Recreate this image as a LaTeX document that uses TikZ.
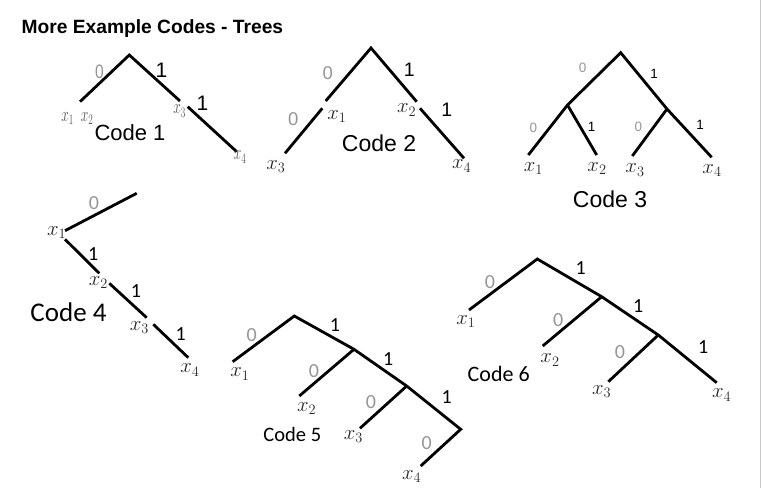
\documentclass[tikz,border=0pt]{standalone}
\usepackage{fontspec}
\setmainfont{Liberation Sans}
\newfontfamily\calib{Carlito}
\definecolor{zgray}{RGB}{150,150,150}
\definecolor{xgray}{RGB}{85,85,85}
\definecolor{xdark}{RGB}{40,40,40}
\definecolor{edgegray}{RGB}{200,200,200}
\begin{document}
\begin{tikzpicture}[x=1pt,y=-1pt,
  br/.style={line width=2.8pt,black},
  zeroA/.style={font=\fontsize{18.5}{18.5}\selectfont,text=zgray,inner sep=0pt},
  oneA/.style={font=\fontsize{19.5}{19.5}\selectfont,text=black,inner sep=0pt},
  zeroS/.style={font=\fontsize{13.5}{13.5}\selectfont,text=zgray,inner sep=0pt},
  oneS/.style={font=\fontsize{13.5}{13.5}\selectfont,text=black,inner sep=0pt},
  zeroC/.style={font=\calib\fontsize{20}{20}\selectfont,text=zgray,inner sep=0pt},
  oneC/.style={font=\calib\fontsize{20}{20}\selectfont,text=black,inner sep=0pt},
  xlg/.style={font=\fontsize{21}{21}\selectfont,text=xgray,inner sep=0pt,xscale=0.65},
  xl/.style={font=\fontsize{19.5}{19.5}\selectfont,text=xdark,inner sep=0pt},
  xlb/.style={font=\fontsize{22}{22}\selectfont,text=xdark,inner sep=0pt},
  codeA/.style={font=\fontsize{22.5}{22.5}\selectfont,inner sep=0pt,anchor=base},
  codeC/.style={font=\calib\fontsize{27}{27}\selectfont,inner sep=0pt,anchor=base}]
\useasboundingbox (0,0) rectangle (761,488);
\fill[white] (0,0) rectangle (761,488);
\coordinate (e1) at (760.5,0);
\coordinate (e2) at (760.5,488);
\draw[edgegray,line width=1pt] (e1) -- (e2);
\node[anchor=base west,inner sep=0pt,font=\bfseries\fontsize{19.2}{19.2}\selectfont] (title) at (21.5,33.5) {More Example Codes - Trees};

% ---- Code 1
\coordinate (a0) at (129.3,55);
\coordinate (a1) at (80,101.7);
\coordinate (a2) at (180,101);
\coordinate (a3) at (187.7,106.7);
\coordinate (a4) at (236.7,151.7);
\draw[br] (a1) -- (a0) -- (a2);
\draw[br] (a3) -- (a4);
\node[zeroA,xscale=0.8,font=\fontsize{19.5}{19.5}\selectfont] (a0l) at (99.5,71.5) {0};
\node[oneA,font=\fontsize{21}{21}\selectfont] (a1l) at (161.5,70.5) {1};
\node[oneA,font=\fontsize{21}{21}\selectfont] (a2l) at (202.5,103.5) {1};
\node[xlg] (ax1) at (67.5,118.5) {$x_1$};
\node[xlg] (ax2) at (87,118.5) {$x_2$};
\node[xlg] (ax3) at (179.5,111) {$x_3$};
\node[xlg] (ax4) at (240,157) {$x_4$};
\node[codeA,font=\fontsize{22}{22}\selectfont] (c1) at (130,140) {Code 1};

% ---- Code 2
\coordinate (b0) at (371,48);
\coordinate (b1) at (325.7,101);
\coordinate (b2) at (322.3,108.3);
\coordinate (b3) at (285,153.3);
\coordinate (b4) at (416.7,101.7);
\coordinate (b5) at (420,108.3);
\coordinate (b6) at (464,158.3);
\draw[br] (b1) -- (b0) -- (b4);
\draw[br] (b2) -- (b3);
\draw[br] (b5) -- (b6);
\node[zeroA] (b0l) at (327.7,73.3) {0};
\node[oneA] (b1l) at (409.3,69.3) {1};
\node[zeroA] (b2l) at (293.3,119) {0};
\node[oneA] (b3l) at (446.7,110) {1};
\node[xl] (bx1) at (337,116.7) {$x_1$};
\node[xl] (bx2) at (406.7,110) {$x_2$};
\node[xl] (bx3) at (276,166.7) {$x_3$};
\node[xl] (bx4) at (461.7,166) {$x_4$};
\node[codeA,font=\fontsize{23}{23}\selectfont] (c2) at (379,151.5) {Code 2};

% ---- Code 3
\coordinate (d0) at (620.7,52.7);
\coordinate (dL) at (567.5,105);
\coordinate (dR) at (667,109);
\coordinate (d1) at (528.3,155);
\coordinate (d2) at (596.7,155);
\coordinate (d3) at (632.3,156);
\coordinate (d4) at (711.7,157.3);
\draw[br] (d1) -- (dL) -- (d0) -- (dR) -- (d4);
\draw[br] (dL) -- (d2);
\draw[br] (dR) -- (d3);
\node[zeroS] (d0l) at (582.7,68.3) {0};
\node[oneS] (d1l) at (654,74.3) {1};
\node[zeroS] (d2l) at (533.3,128.3) {0};
\node[oneS] (d3l) at (591.7,126.7) {1};
\node[zeroS] (d4l) at (638.3,127.3) {0};
\node[oneS] (d5l) at (700,125) {1};
\node[xlb] (dx1) at (533.3,168.3) {$x_1$};
\node[xlb] (dx2) at (597,168.3) {$x_2$};
\node[xlb] (dx3) at (635,170) {$x_3$};
\node[xlb] (dx4) at (712,170.7) {$x_4$};
\node[codeA,font=\fontsize{23}{23}\selectfont] (c3) at (610,207) {Code 3};

% ---- Code 4
\coordinate (f0) at (136.7,193.3);
\coordinate (f1) at (65,230.7);
\coordinate (f2) at (65,239.3);
\coordinate (f3) at (99.3,273.3);
\coordinate (f4) at (109.3,283.3);
\coordinate (f5) at (146.7,317.7);
\coordinate (f6) at (153.3,324.3);
\coordinate (f7) at (188.3,357.7);
\draw[br] (f1) -- (f0);
\draw[br] (f2) -- (f3);
\draw[br] (f4) -- (f5);
\draw[br] (f6) -- (f7);
\node[zeroC] (f0l) at (94,202.7) {0};
\node[oneC] (f1l) at (93.3,254) {1};
\node[oneC] (f2l) at (136,291) {1};
\node[oneC] (f3l) at (180.7,334) {1};
\node[xl] (fx1) at (56.7,232.7) {$x_1$};
\node[xl] (fx2) at (98.3,282.7) {$x_2$};
\node[xl] (fx3) at (139.3,327.7) {$x_3$};
\node[xl] (fx4) at (190,370) {$x_4$};
\node[codeC] (c4) at (68.5,321.5) {Code 4};

% ---- Code 5
\coordinate (g0) at (294.3,316);
\coordinate (g1) at (232.7,361.7);
\coordinate (gA) at (354,349.3);
\coordinate (g2) at (299.3,396);
\coordinate (gB) at (406.7,386);
\coordinate (g3) at (360,428.3);
\coordinate (gC) at (460.7,429.3);
\coordinate (g4) at (420.7,466);
\draw[br] (g1) -- (g0) -- (gA) -- (gB) -- (gC) -- (g4);
\draw[br] (gA) -- (g2);
\draw[br] (gB) -- (g3);
\node[zeroC] (g0l) at (251.7,335) {0};
\node[oneC] (g1l) at (335,325) {1};
\node[zeroC] (g2l) at (314,370.7) {0};
\node[oneC] (g3l) at (388.3,359.3) {1};
\node[zeroC] (g4l) at (371,401.7) {0};
\node[oneC] (g5l) at (446.7,397.3) {1};
\node[zeroC] (g6l) at (426.7,442.7) {0};
\node[xl] (gx1) at (240,374) {$x_1$};
\node[xl] (gx2) at (306.7,408.3) {$x_2$};
\node[xl] (gx3) at (353.3,436.7) {$x_3$};
\node[xl] (gx4) at (411.7,476.7) {$x_4$};
\node[codeC,font=\calib\fontsize{20.5}{20.5}\selectfont] (c5) at (292.3,441.5) {Code 5};

% ---- Code 6
\coordinate (h0) at (537.3,259);
\coordinate (h1) at (469,310);
\coordinate (hA) at (601.7,296.7);
\coordinate (h2) at (542.7,346);
\coordinate (hB) at (658.3,335);
\coordinate (h3) at (608.3,381.7);
\coordinate (h4) at (716.7,382.7);
\draw[br] (h1) -- (h0) -- (hA) -- (hB) -- (h4);
\draw[br] (hA) -- (h2);
\draw[br] (hB) -- (h3);
\node[zeroC] (h0l) at (490,281.7) {0};
\node[oneC] (h1l) at (580.7,268.3) {1};
\node[zeroC] (h2l) at (558.3,320) {0};
\node[oneC] (h3l) at (638.3,306) {1};
\node[zeroC] (h4l) at (620,351.7) {0};
\node[oneC] (h5l) at (703.3,347.3) {1};
\node[xl] (hx1) at (466,321.7) {$x_1$};
\node[xl] (hx2) at (550,360) {$x_2$};
\node[xl] (hx3) at (601.7,391.7) {$x_3$};
\node[xl] (hx4) at (721.7,395) {$x_4$};
\node[codeC,font=\calib\fontsize{22}{22}\selectfont] (c6) at (498.7,381.5) {Code 6};
\end{tikzpicture}
\end{document}
